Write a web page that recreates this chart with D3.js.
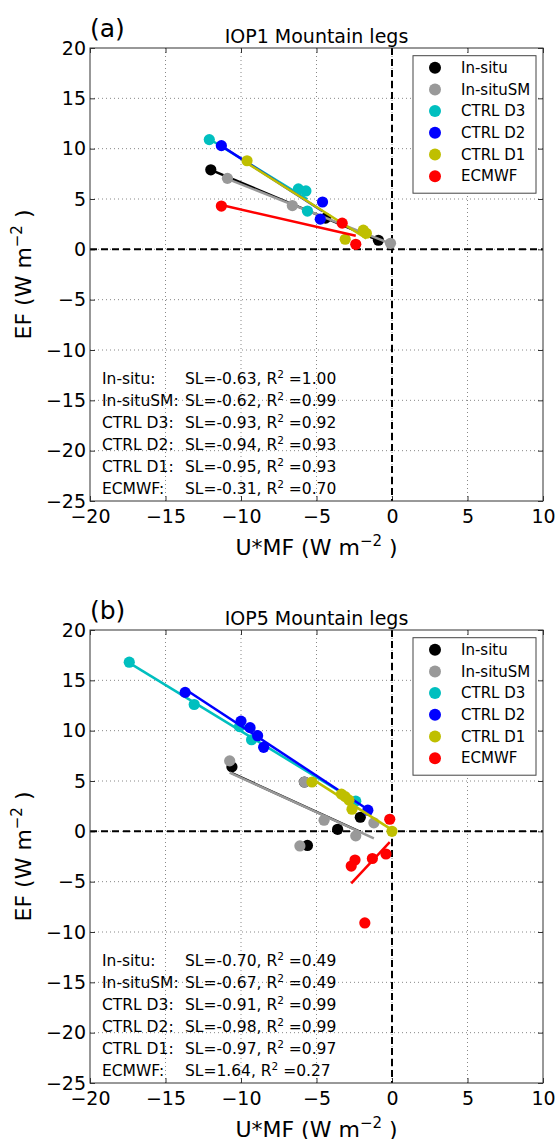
<!DOCTYPE html>
<html><head><meta charset="utf-8">
<script src="https://cdn.jsdelivr.net/npm/d3@7"></script>
<style>
body{margin:0;background:#fff}
svg{display:block}
text{font-family:"DejaVu Sans",sans-serif;fill:#000}
</style>
</head><body>
<svg id="chart" width="559" height="1139"></svg>
<script>
// ---------------- data ----------------
const categories = ["In-situ", "In-situSM", "CTRL D3", "CTRL D2", "CTRL D1", "ECMWF"];
const xTicks = [-20, -15, -10, -5, 0, 5, 10];
const yTicks = [-25, -20, -15, -10, -5, 0, 5, 10, 15, 20];

// IOP1 (panel a)
const iop1X = [
  [-12.0, -4.4, -0.9],
  [-10.9, -6.6, -0.1],
  [-12.1, -6.2, -5.7, -5.6],
  [-11.3, -4.6, -4.75],
  [-9.6, -1.9, -1.7, -3.1],
  [-11.3, -3.3, -2.4]
];
const iop1Y = [
  [7.9, 3.1, 0.9],
  [7.05, 4.35, 0.6],
  [10.9, 6.0, 5.8, 3.8],
  [10.3, 4.7, 3.0],
  [8.8, 1.9, 1.6, 1.0],
  [4.3, 2.6, 0.5]
];
const iop1SL = ["-0.63", "-0.62", "-0.93", "-0.94", "-0.95", "-0.31"];
const iop1R2 = ["1.00", "0.99", "0.92", "0.93", "0.93", "0.70"];

// IOP5 (panel b)
const iop5X = [
  [-10.6, -2.1, -3.6, -5.6, -5.8],
  [-10.75, -5.8, -4.5, -1.2, -2.4, -6.1],
  [-17.4, -13.1, -10.1, -9.3, -2.4],
  [-13.7, -10.0, -9.4, -8.9, -8.5, -1.6],
  [-5.3, -3.35, -3.1, -2.85, -2.65, 0.0],
  [-0.15, -2.45, -2.7, -1.3, -0.4, -1.8]
];
const iop5Y = [
  [6.4, 1.4, 0.2, -1.4, 4.9],
  [7.0, 4.9, 1.1, 0.85, -0.45, -1.45],
  [16.8, 12.6, 10.4, 9.1, 3.0],
  [13.8, 10.95, 10.3, 9.5, 8.35, 2.1],
  [4.9, 3.7, 3.45, 3.1, 2.2, 0.0],
  [1.2, -2.85, -3.45, -2.7, -2.25, -9.1]
];
const iop5SL = ["-0.70", "-0.67", "-0.91", "-0.98", "-0.97", "1.64"];
const iop5R2 = ["0.49", "0.49", "0.99", "0.99", "0.97", "0.27"];

// ---------------- style ----------------
const colors = ["#000000", "#999999", "#00bfbf", "#0000ff", "#bfbf00", "#ff0000"];
const L = 90, R = 543, PH = 453;

const svg = d3.select("#chart");

function fit(xs, ys) {
  const mx = d3.mean(xs), my = d3.mean(ys);
  let sxy = 0, sxx = 0;
  xs.forEach((x, i) => { sxy += (x - mx) * (ys[i] - my); sxx += (x - mx) * (x - mx); });
  const b = sxy / sxx, a = my - b * mx;
  const x0 = d3.min(xs), x1 = d3.max(xs);
  return [[x0, a + b * x0], [x1, a + b * x1]];
}

function drawPanel(top, tag, title, X, Y, SL, R2) {
  const bottom = top + PH;
  const x = d3.scaleLinear().domain([-20, 10]).range([L, R]);
  const y = d3.scaleLinear().domain([-25, 20]).range([bottom, top]);
  const g = svg.append("g");

  // grid
  g.selectAll(null).data(xTicks.slice(1, -1)).enter().append("line")
    .attr("x1", d => x(d)).attr("x2", d => x(d)).attr("y1", top).attr("y2", bottom)
    .attr("stroke", "#888").attr("stroke-width", 1).attr("stroke-dasharray", "1,3");
  g.selectAll(null).data(yTicks.slice(1, -1)).enter().append("line")
    .attr("y1", d => y(d)).attr("y2", d => y(d)).attr("x1", L).attr("x2", R)
    .attr("stroke", "#888").attr("stroke-width", 1).attr("stroke-dasharray", "1,3");

  // axes
  const fmt = d3.format("d");
  const ax = g.append("g").attr("transform", `translate(0,${bottom})`)
    .call(d3.axisBottom(x).tickValues(xTicks).tickSize(-5).tickPadding(9).tickFormat(fmt));
  const ay = g.append("g").attr("transform", `translate(${L},0)`)
    .call(d3.axisLeft(y).tickValues(yTicks).tickSize(-5).tickPadding(4).tickFormat(fmt));
  const at = g.append("g").attr("transform", `translate(0,${top})`)
    .call(d3.axisTop(x).tickValues(xTicks).tickSize(-5).tickFormat(""));
  const ar = g.append("g").attr("transform", `translate(${R},0)`)
    .call(d3.axisRight(y).tickValues(yTicks).tickSize(-5).tickFormat(""));
  [ax, ay, at, ar].forEach(a => {
    a.select(".domain").remove();
    a.selectAll(".tick line").attr("stroke", "#333");
    a.selectAll("text").attr("font-size", 19).attr("font-family", "DejaVu Sans, sans-serif").attr("fill", "#000");
  });

  // zero lines
  g.append("line").attr("x1", L).attr("x2", R).attr("y1", y(0)).attr("y2", y(0))
    .attr("stroke", "#000").attr("stroke-width", 2).attr("stroke-dasharray", "7,4");
  g.append("line").attr("x1", x(0)).attr("x2", x(0)).attr("y1", top).attr("y2", bottom)
    .attr("stroke", "#000").attr("stroke-width", 2).attr("stroke-dasharray", "7,4");

  // series
  categories.forEach((c, i) => {
    const f = fit(X[i], Y[i]);
    g.append("line")
      .attr("x1", x(f[0][0])).attr("y1", y(f[0][1]))
      .attr("x2", x(f[1][0])).attr("y2", y(f[1][1]))
      .attr("stroke", colors[i]).attr("stroke-width", 2.5);
    g.selectAll(null).data(X[i].map((v, j) => [v, Y[i][j]])).enter().append("circle")
      .attr("cx", d => x(d[0])).attr("cy", d => y(d[1])).attr("r", 5.6)
      .attr("fill", colors[i]);
  });

  // spines
  g.append("rect").attr("x", L).attr("y", top).attr("width", R - L).attr("height", PH)
    .attr("fill", "none").attr("stroke", "#333").attr("stroke-width", 1);

  // legend
  const lg = g.append("g").attr("transform", `translate(413,${top + 7.7})`);
  lg.append("rect").attr("width", 123).attr("height", 137.5)
    .attr("fill", "#fff").attr("stroke", "#444").attr("stroke-width", 1);
  categories.forEach((c, i) => {
    const cy = 12 + i * 21.7;
    lg.append("circle").attr("cx", 22).attr("cy", cy).attr("r", 6).attr("fill", colors[i]);
    lg.append("text").attr("x", 48).attr("y", cy + 5.3).attr("font-size", 15).text(c);
  });

  // annotations
  categories.forEach((c, i) => {
    const by = bottom - 7.5 - 22 * (categories.length - 1 - i);
    g.append("text").attr("x", L + 12).attr("y", by).attr("font-size", 15.5).text(c + ":");
    const t = g.append("text").attr("x", L + 95).attr("y", by).attr("font-size", 15.5);
    t.append("tspan").text(`SL=${SL[i]}, R`);
    t.append("tspan").attr("font-size", 10.5).attr("dy", -6).text("2");
    t.append("tspan").attr("dy", 6).text(` =${R2[i]}`);
  });

  // titles
  g.append("text").attr("x", (L + R) / 2).attr("y", top - 4.7).attr("text-anchor", "middle")
    .attr("font-size", 19).text(title);
  g.append("text").attr("x", L).attr("y", top - 11).attr("font-size", 25).text(tag);

  // axis labels
  const xl = g.append("text").attr("x", (L + R) / 2).attr("y", bottom + 54)
    .attr("text-anchor", "middle").attr("font-size", 22);
  xl.append("tspan").text("U*MF (W m");
  xl.append("tspan").attr("font-size", 15).attr("dy", -9).text("−2");
  xl.append("tspan").attr("dy", 9).text(" )");

  const yl = g.append("text")
    .attr("transform", `translate(31,${(top + bottom) / 2}) rotate(-90)`)
    .attr("text-anchor", "middle").attr("font-size", 22);
  yl.append("tspan").text("EF (W m");
  yl.append("tspan").attr("font-size", 15).attr("dy", -9).text("−2");
  yl.append("tspan").attr("dy", 9).text(" )");
}

drawPanel(48, "(a)", "IOP1 Mountain legs", iop1X, iop1Y, iop1SL, iop1R2);
drawPanel(630, "(b)", "IOP5 Mountain legs", iop5X, iop5Y, iop5SL, iop5R2);
</script>
</body></html>
